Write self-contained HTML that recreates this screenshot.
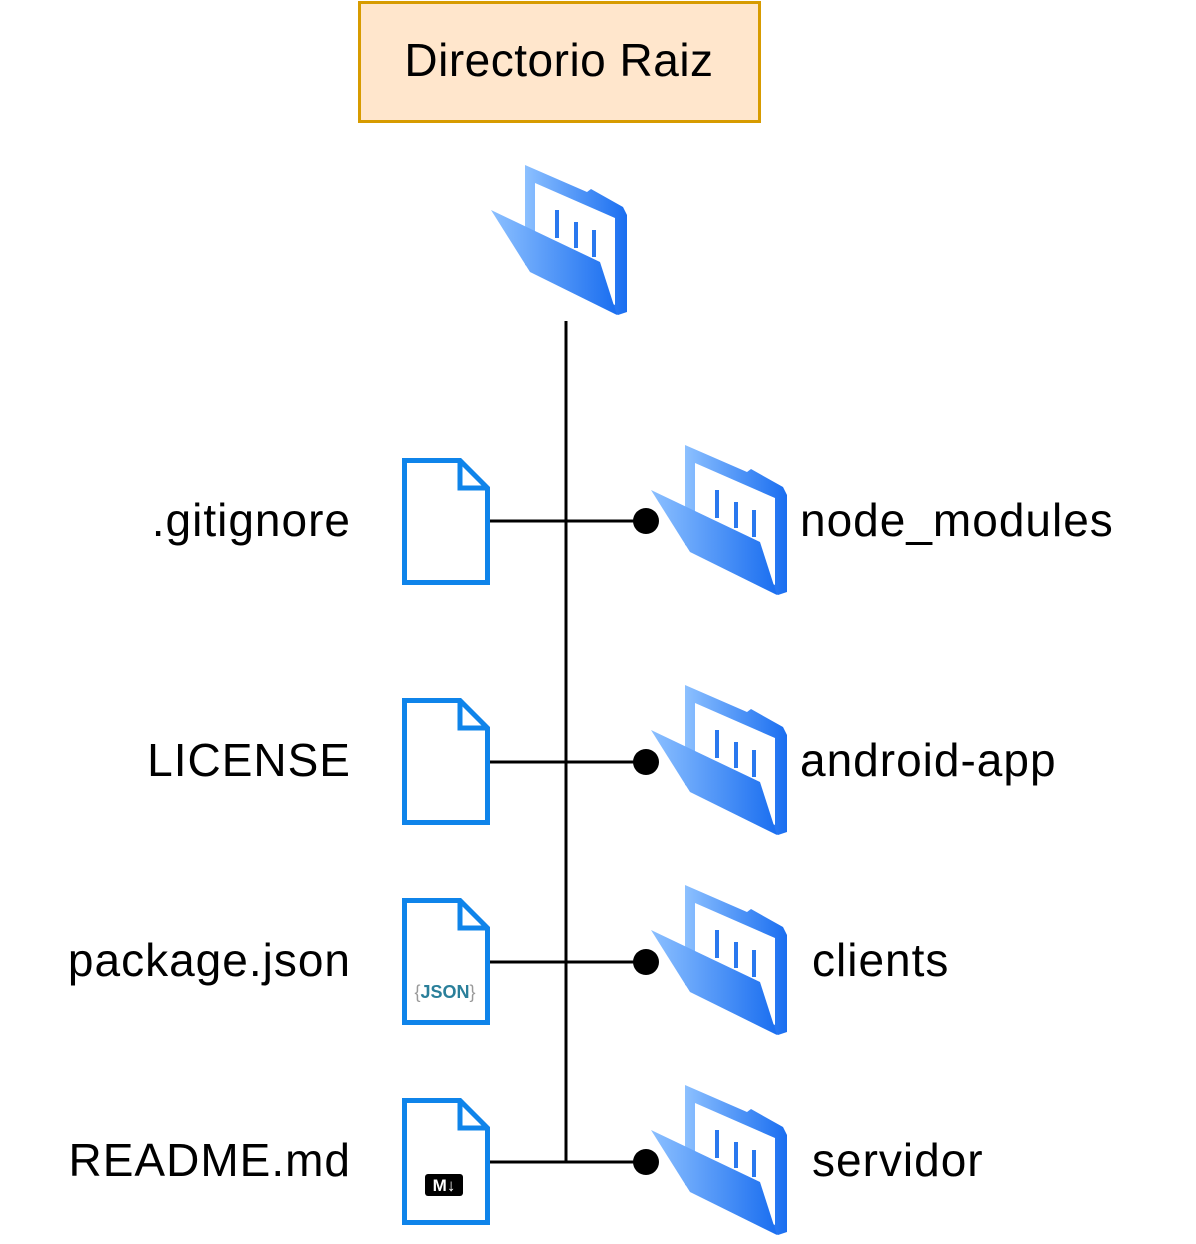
<!DOCTYPE html>
<html><head><style>body{margin:0;background:#fff}svg{display:block}</style></head><body>
<svg width="1196" height="1244" viewBox="0 0 1196 1244" xmlns="http://www.w3.org/2000/svg" font-family="Liberation Sans, Arial, sans-serif">
<defs>
<linearGradient id="g" x1="0" y1="0" x2="1" y2="0"><stop offset="0" stop-color="#8cc0ff"/><stop offset="1" stop-color="#1a6ef0"/></linearGradient>
<g id="folder">
<path d="M33,0 L95,27 L99,24 L131,42 L135,50 L135,147 L126,150 L33,100 Z" fill="url(#g)"/>
<path d="M43,18 L123,53 L123,140 L43,100 Z" fill="#fff"/>
<rect x="63" y="45" width="4" height="28" fill="#2a78ee"/>
<rect x="82" y="57" width="4" height="26" fill="#2a78ee"/>
<rect x="100" y="65" width="4" height="27" fill="#2a78ee"/>
<path d="M-1,45 L108,97 L125,150 L38,107 Z" fill="url(#g)"/>
</g>
<g id="file">
<path d="M2.5,2.5 L58,2.5 L85.5,30 L85.5,124.5 L2.5,124.5 Z" fill="#fff" stroke="#0f84ea" stroke-width="5"/>
<path d="M58,2.5 L58,30 L85.5,30" fill="none" stroke="#0f84ea" stroke-width="5"/>
</g>
</defs>
<rect x="359.5" y="2.5" width="400" height="119" fill="#ffe6cc" stroke="#d79b00" stroke-width="3"/>
<text x="559" y="76" font-size="46" letter-spacing="0.5" text-anchor="middle" fill="#000">Directorio Raiz</text>
<use href="#folder" x="492" y="165"/>
<g stroke="#000" stroke-width="3">
<line x1="566" y1="321" x2="566" y2="1163"/>
<line x1="490" y1="521" x2="646" y2="521"/>
<line x1="490" y1="762" x2="646" y2="762"/>
<line x1="490" y1="962" x2="646" y2="962"/>
<line x1="490" y1="1162" x2="646" y2="1162"/>
</g>
<g fill="#000"><circle cx="646" cy="521" r="13"/><circle cx="646" cy="762" r="13"/><circle cx="646" cy="962" r="13"/><circle cx="646" cy="1162" r="13"/></g>
<use href="#file" x="402" y="458"/>
<use href="#file" x="402" y="698"/>
<use href="#file" x="402" y="898"/>
<use href="#file" x="402" y="1098"/>
<text x="445" y="998" font-size="18" text-anchor="middle" fill="#2a7f9a" font-weight="bold"><tspan fill="#999" font-weight="normal">{</tspan>JSON<tspan fill="#999" font-weight="normal">}</tspan></text>
<rect x="425" y="1174" width="38" height="22" rx="3" fill="#000"/>
<text x="444" y="1191" font-size="17" text-anchor="middle" fill="#fff" font-weight="bold">M↓</text>
<use href="#folder" x="652" y="445"/>
<use href="#folder" x="652" y="685"/>
<use href="#folder" x="652" y="885"/>
<use href="#folder" x="652" y="1085"/>
<g font-size="46" fill="#000" letter-spacing="1">
<text x="351" y="536" text-anchor="end">.gitignore</text>
<text x="351" y="776" text-anchor="end">LICENSE</text>
<text x="351" y="976" text-anchor="end">package.json</text>
<text x="351" y="1176" text-anchor="end">README.md</text>
<text x="800" y="536">node_modules</text>
<text x="800" y="776">android-app</text>
<text x="812" y="976">clients</text>
<text x="812" y="1176">servidor</text>
</g>
</svg>
</body></html>
